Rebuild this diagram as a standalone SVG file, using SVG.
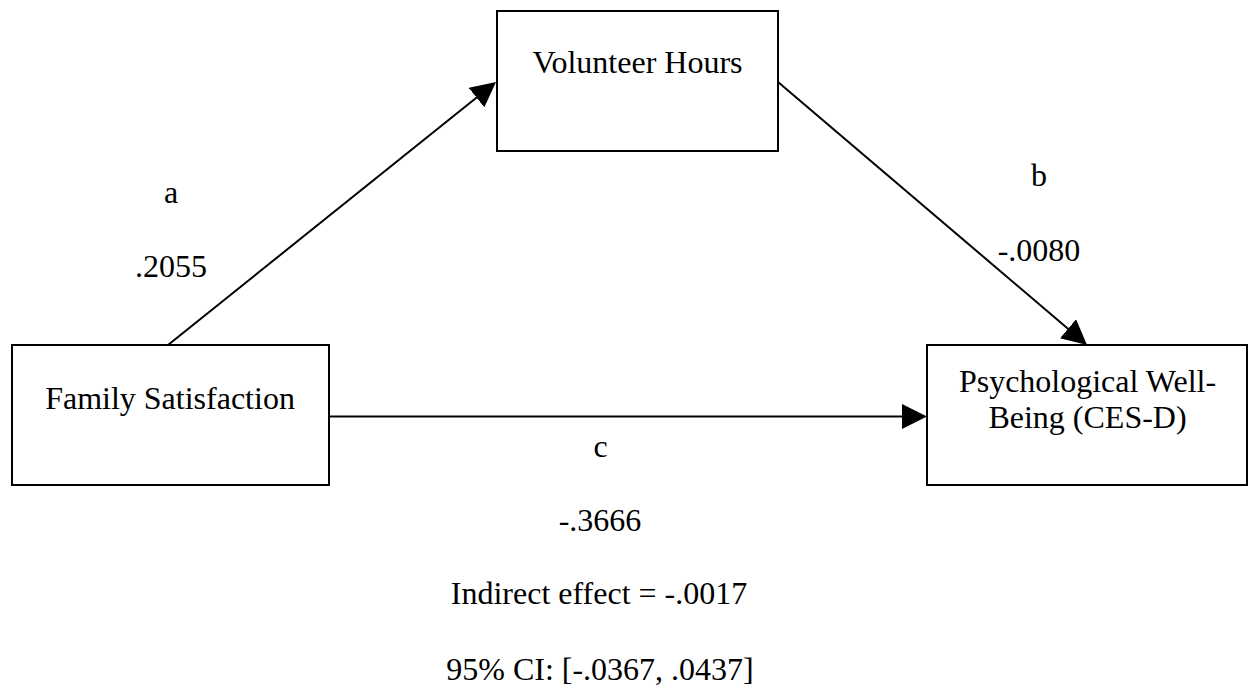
<svg xmlns="http://www.w3.org/2000/svg" width="1249" height="689" viewBox="0 0 1249 689">
  <style>
    .box { fill: #ffffff; stroke: #000000; stroke-width: 2; }
    .edge { fill: none; stroke: #000000; stroke-width: 2; }
    text { font-family: "Liberation Serif", "Times New Roman", serif; font-size: 32px; fill: #000000; text-anchor: middle; }
  </style>
  <defs>
    <marker id="arrow" markerUnits="userSpaceOnUse" markerWidth="25" markerHeight="25" refX="5" refY="12.5" orient="auto">
      <path d="M0,0 L25,12.5 L0,25 Z" fill="#000000"/>
    </marker>
  </defs>
  <rect width="1249" height="689" fill="#ffffff"/>

  <!-- connectors: paths a, b, c -->
  <g id="connectors">
    <line class="edge" x1="168" y1="345" x2="480.4" y2="94.5" marker-end="url(#arrow)"/>
    <line class="edge" x1="778" y1="82" x2="1071.8" y2="332" marker-end="url(#arrow)"/>
    <line class="edge" x1="329" y1="416.5" x2="907" y2="416.5" marker-end="url(#arrow)"/>
  </g>

  <g id="node-volunteer">
    <rect class="box" x="497" y="11" width="281" height="140"/>
    <text x="637.5" y="73">Volunteer Hours</text>
  </g>

  <g id="node-family">
    <rect class="box" x="12" y="345" width="317" height="140"/>
    <text x="170" y="409">Family Satisfaction</text>
  </g>

  <g id="node-wellbeing">
    <rect class="box" x="927" y="345" width="320" height="140"/>
    <text x="1087.5" y="392">Psychological Well-</text>
    <text x="1087.5" y="428">Being (CES-D)</text>
  </g>

  <!-- path coefficients -->
  <g id="labels">
    <text x="171" y="203">a</text>
    <text x="171" y="277">.2055</text>
    <text x="1039" y="186">b</text>
    <text x="1039" y="261">-.0080</text>
    <text x="600.5" y="457">c</text>
    <text x="600" y="531">-.3666</text>
    <text x="599" y="604">Indirect effect = -.0017</text>
    <text x="600" y="680">95% CI: [-.0367, .0437]</text>
  </g>
</svg>
